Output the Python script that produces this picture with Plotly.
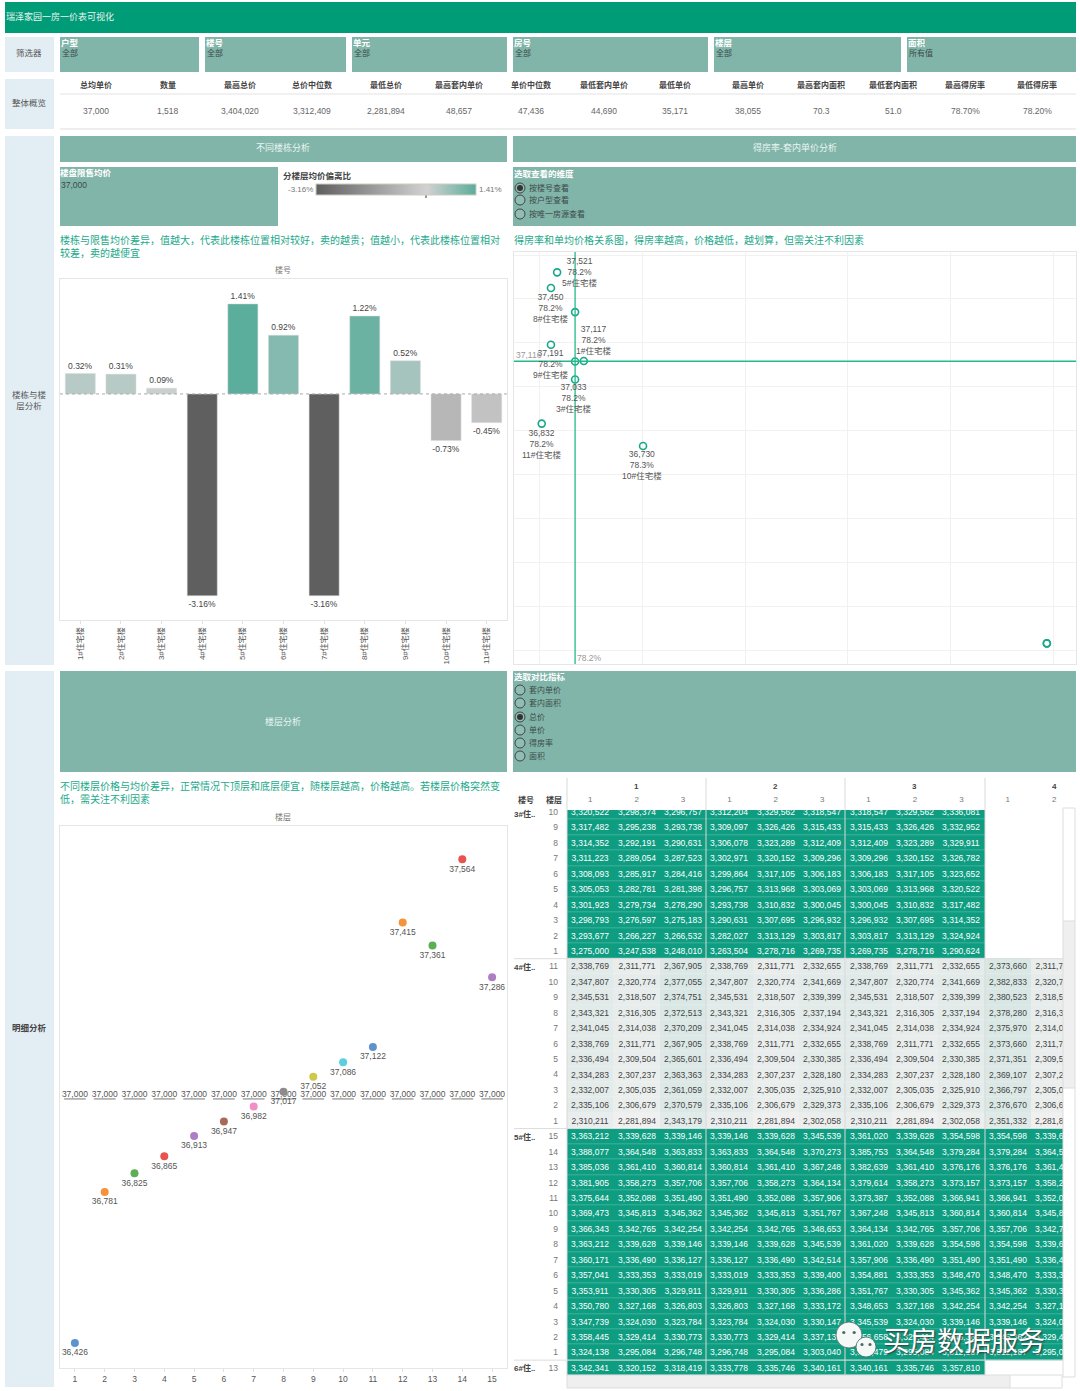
import plotly.graph_objects as go

# overview numbers
kpi_names = ["总均单价", "数量", "最高总价", "总价中位数", "最低总价", "最高套内单价", "单价中位数",
             "最低套内单价", "最低单价", "最高单价", "最高套内面积", "最低套内面积", "最高得房率", "最低得房率"]
kpi_values = ["37,000", "1,518", "3,404,020", "3,312,409", "2,281,894", "48,657", "47,436",
              "44,690", "35,171", "38,055", "70.3", "51.0", "78.70%", "78.20%"]

# building bars
buildings = ["1#住宅楼", "2#住宅楼", "3#住宅楼", "4#住宅楼", "5#住宅楼", "6#住宅楼",
             "7#住宅楼", "8#住宅楼", "9#住宅楼", "10#住宅楼", "11#住宅楼"]
deviation = [0.32, 0.31, 0.09, -3.16, 1.41, 0.92, -3.16, 1.22, 0.52, -0.73, -0.45]

# price vs efficiency scatter
building_price = [37117, 37115, 37033, 35831, 37521, 37340, 35831, 37450, 37191, 36730, 36832]
building_rate = [78.243, 78.2345, 78.2345, 78.694, 78.217, 78.2345, 78.694, 78.211, 78.211, 78.3007, 78.202]
avg_price = 37116
avg_rate = 78.2345

# floor dots
floors = list(range(1, 16))
floor_price = [36426, 36781, 36825, 36865, 36913, 36947, 36982, 37017, 37052, 37086, 37122, 37415, 37361, 37564, 37286]
floor_avg = [37000] * 15
floor_colors = ["#5F93CE", "#F5923A", "#5DAE54", "#E8534F", "#AD7EC4", "#A8695C", "#F08FC6", "#8C8C8C",
                "#CFC94A", "#5CCFDF", "#5F93CE", "#F5923A", "#5DAE54", "#E8534F", "#AD7EC4"]

# detail table, total price per floor (top floor first), columns are unit 1-4 / room 1-3
b3_floors = [10, 9, 8, 7, 6, 5, 4, 3, 2, 1]
b3_prices = [
    [3320522, 3298374, 3296757, 3312204, 3329562, 3318547, 3318547, 3329562, 3336081],
    [3317482, 3295238, 3293738, 3309097, 3326426, 3315433, 3315433, 3326426, 3332952],
    [3314352, 3292191, 3290631, 3306078, 3323289, 3312409, 3312409, 3323289, 3329911],
    [3311223, 3289054, 3287523, 3302971, 3320152, 3309296, 3309296, 3320152, 3326782],
    [3308093, 3285917, 3284416, 3299864, 3317105, 3306183, 3306183, 3317105, 3323652],
    [3305053, 3282781, 3281398, 3296757, 3313968, 3303069, 3303069, 3313968, 3320522],
    [3301923, 3279734, 3278290, 3293738, 3310832, 3300045, 3300045, 3310832, 3317482],
    [3298793, 3276597, 3275183, 3290631, 3307695, 3296932, 3296932, 3307695, 3314352],
    [3293677, 3266227, 3266532, 3282027, 3313129, 3303817, 3303817, 3313129, 3324924],
    [3275000, 3247538, 3248010, 3263504, 3278716, 3269735, 3269735, 3278716, 3290624],
]
b4_floors = [11, 10, 9, 8, 7, 6, 5, 4, 3, 2, 1]
b4_prices = [
    [2338769, 2311771, 2367905, 2338769, 2311771, 2332655, 2338769, 2311771, 2332655, 2373660, 2311771],
    [2347807, 2320774, 2377055, 2347807, 2320774, 2341669, 2347807, 2320774, 2341669, 2382833, 2320774],
    [2345531, 2318507, 2374751, 2345531, 2318507, 2339399, 2345531, 2318507, 2339399, 2380523, 2318507],
    [2343321, 2316305, 2372513, 2343321, 2316305, 2337194, 2343321, 2316305, 2337194, 2378280, 2316305],
    [2341045, 2314038, 2370209, 2341045, 2314038, 2334924, 2341045, 2314038, 2334924, 2375970, 2314038],
    [2338769, 2311771, 2367905, 2338769, 2311771, 2332655, 2338769, 2311771, 2332655, 2373660, 2311771],
    [2336494, 2309504, 2365601, 2336494, 2309504, 2330385, 2336494, 2309504, 2330385, 2371351, 2309504],
    [2334283, 2307237, 2363363, 2334283, 2307237, 2328180, 2334283, 2307237, 2328180, 2369107, 2307237],
    [2332007, 2305035, 2361059, 2332007, 2305035, 2325910, 2332007, 2305035, 2325910, 2366797, 2305035],
    [2335106, 2306679, 2370579, 2335106, 2306679, 2329373, 2335106, 2306679, 2329373, 2376670, 2306679],
    [2310211, 2281894, 2343179, 2310211, 2281894, 2302058, 2310211, 2281894, 2302058, 2351332, 2281894],
]
b5_floors = [15, 14, 13, 12, 11, 10, 9, 8, 7, 6, 5, 4, 3, 2, 1]
b5_prices = [
    [3363212, 3339628, 3339146, 3339146, 3339628, 3345539, 3361020, 3339628, 3354598, 3354598, 3339628],
    [3388077, 3364548, 3363833, 3363833, 3364548, 3370273, 3385753, 3364548, 3379284, 3379284, 3364548],
    [3385036, 3361410, 3360814, 3360814, 3361410, 3367248, 3382639, 3361410, 3376176, 3376176, 3361410],
    [3381905, 3358273, 3357706, 3357706, 3358273, 3364134, 3379614, 3358273, 3373157, 3373157, 3358273],
    [3375644, 3352088, 3351490, 3351490, 3352088, 3357906, 3373387, 3352088, 3366941, 3366941, 3352088],
    [3369473, 3345813, 3345362, 3345362, 3345813, 3351767, 3367248, 3345813, 3360814, 3360814, 3345813],
    [3366343, 3342765, 3342254, 3342254, 3342765, 3348653, 3364134, 3342765, 3357706, 3357706, 3342765],
    [3363212, 3339628, 3339146, 3339146, 3339628, 3345539, 3361020, 3339628, 3354598, 3354598, 3339628],
    [3360171, 3336490, 3336127, 3336127, 3336490, 3342514, 3357906, 3336490, 3351490, 3351490, 3336490],
    [3357041, 3333353, 3333019, 3333019, 3333353, 3339400, 3354881, 3333353, 3348470, 3348470, 3333353],
    [3353911, 3330305, 3329911, 3329911, 3330305, 3336286, 3351767, 3330305, 3345362, 3345362, 3330305],
    [3350780, 3327168, 3326803, 3326803, 3327168, 3333172, 3348653, 3327168, 3342254, 3342254, 3327168],
    [3347739, 3324030, 3323784, 3323784, 3324030, 3330147, 3345539, 3324030, 3339146, 3339146, 3324030],
    [3358445, 3329414, 3330773, 3330773, 3329414, 3337130, 3356658, 3329414, 3345362, 3345362, 3329414],
    [3324138, 3295084, 3296748, 3296748, 3295084, 3303040, 3318479, 3295084, 3312187, 3312187, 3295084],
]
b6_floors = [13]
b6_prices = [[3342341, 3320152, 3318419, 3333778, 3335746, 3340161, 3340161, 3335746, 3357810]]
unit_labels = ["1", "2", "3", "4"]
room_labels = ["1", "2", "3", "1", "2", "3", "1", "2", "3", "1", "2"]

W, H = 1080, 1391
FONT = "Liberation Sans, Noto Sans CJK SC"
TEAL = "#82B5AA"
DARK = "#009B77"
PALE = "#E3EEF4"
GREEN_TEXT = "#1CA98A"
GREY = "#555555"


def px(x):
    return x / W


def py(y):
    return 1 - y / H


def note(text):
    # the notes use full-width punctuation
    return text.replace(",", "\uff0c").replace(";", "\uff1b")


shapes, annotations = [], []


def box(x0, y0, x1, y1, color):
    shapes.append(dict(type="rect", xref="paper", yref="paper", x0=px(x0), x1=px(x1), y0=py(y0), y1=py(y1),
                       fillcolor=color, line_width=0, layer="below"))


def hline(x0, x1, y, color="#E4E4E4", width=1, layer="above"):
    shapes.append(dict(type="line", xref="paper", yref="paper", x0=px(x0), x1=px(x1), y0=py(y), y1=py(y),
                       line=dict(color=color, width=width), layer=layer))


def vline(x, y0, y1, color="#D9D9D9", width=1):
    shapes.append(dict(type="line", xref="paper", yref="paper", x0=px(x), x1=px(x), y0=py(y0), y1=py(y1),
                       line=dict(color=color, width=width), layer="above"))


def label(x, y, text, size=8.5, color=GREY, anchor="left", bold=False):
    if bold:
        text = f"<b>{text}</b>"
    annotations.append(dict(xref="paper", yref="paper", x=px(x), y=py(y), text=text, showarrow=False,
                            xanchor=anchor, yanchor="middle", font=dict(size=size, color=color, family=FONT),
                            borderpad=0, borderwidth=0))


def radios(x, ys, names, selected):
    for y, name in zip(ys, names):
        shapes.append(dict(type="circle", xref="paper", yref="paper", x0=px(x - 5), x1=px(x + 5),
                           y0=py(y + 5), y1=py(y - 5), line=dict(color="#444444", width=1),
                           fillcolor="rgba(255,255,255,0.12)", layer="above"))
        if name == selected:
            shapes.append(dict(type="circle", xref="paper", yref="paper", x0=px(x - 3), x1=px(x + 3),
                               y0=py(y + 3), y1=py(y - 3), line_width=0, fillcolor="#333333", layer="above"))
        label(x + 9, y, name, 8, "#3C4A47")


# title and filters
box(5, 2, 1076, 33, DARK)
label(6, 17, "瑞泽家园一房一价表可视化", 9, "#E8F5F1")
box(5, 37, 54, 72, PALE)
label(29, 53, "筛选器", 8.5, GREY, "center")
for x0, x1, name, val in [(60, 199, "户型", "全部"), (205, 346, "楼号", "全部"), (352, 507, "单元", "全部"),
                          (513, 708, "房号", "全部"), (714, 901, "楼层", "全部"), (907, 1076, "面积", "所有值")]:
    box(x0, 37, x1, 72, TEAL)
    label(x0 + 1, 43, name, 8.5, "#FFFFFF", bold=True)
    label(x0 + 2, 53, val, 8, "#3C4A47")

# overview row
box(5, 79, 54, 129, PALE)
label(29, 103, "整体概览", 8.5, GREY, "center")
kpi_centers = [96, 168, 240, 312, 386, 459, 531, 604, 675, 748, 821, 893, 965, 1037]
for cx, name, val in zip(kpi_centers, kpi_names, kpi_values):
    label(cx, 85, name, 8, "#444444", "center", True)
    label(cx, 111, val, 8.5, "#666666", "center")
hline(60, 1076, 94, "#F1F1F1", 2)
hline(60, 1076, 129, "#DDDDDD", 1)

# section panels
box(5, 136, 54, 665, PALE)
label(29, 400, "楼栋与楼<br>层分析", 8.5, GREY, "center")
box(5, 671, 54, 1387, PALE)
label(29, 1028, "明细分析", 8.5, "#444444", "center", True)

box(60, 136, 507, 162, TEAL)
label(283, 148, "不同楼栋分析", 9, "#E8F5F1", "center")
box(513, 136, 1076, 162, TEAL)
label(795, 148, "得房率-套内单价分析", 9, "#E8F5F1", "center")

box(60, 167, 278, 226, TEAL)
label(60, 173, "楼盘限售均价", 8.5, "#FFFFFF", bold=True)
label(61, 185, "37,000", 8.5, "#3C4A47")
label(283, 176, "分楼层均价偏离比", 8.5, "#444444", bold=True)
label(288, 189, "-3.16%", 8, "#777777")
label(479, 189, "1.41%", 8, "#777777")
vline(426, 195, 198, "#333333", 1)

box(513, 167, 1076, 226, TEAL)
label(514, 174, "选取查看的维度", 8.5, "#FFFFFF", bold=True)
radios(520, [188, 200, 214], ["按楼号查看", "按户型查看", "按唯一房源查看"], "按楼号查看")

label(60, 240, note("楼栋与限售均价差异,值越大,代表此楼栋位置相对较好,卖的越贵;值越小,代表此楼栋位置相对"), 10, GREEN_TEXT)
label(60, 253, note("较差,卖的越便宜"), 10, GREEN_TEXT)
label(514, 240, note("得房率和单均价格关系图,得房率越高,价格越低,越划算,但需关注不利因素"), 10, GREEN_TEXT)
label(283, 270, "楼号", 8, "#777777", "center")

box(60, 671, 507, 772, TEAL)
label(283, 721, "楼层分析", 9, "#E8F5F1", "center")
box(513, 671, 1076, 772, TEAL)
label(514, 677, "选取对比指标", 8.5, "#FFFFFF", bold=True)
radios(520, [690, 703, 717, 730, 743, 756], ["套内单价", "套内面积", "总价", "单价", "得房率", "面积"], "总价")

label(60, 786, note("不同楼层价格与均价差异,正常情况下顶层和底层便宜,随楼层越高,价格越高。若楼层价格突然变"), 10, GREEN_TEXT)
label(60, 799, note("低,需关注不利因素"), 10, GREEN_TEXT)
label(283, 817, "楼层", 8, "#777777", "center")

fig = go.Figure()

# bars, the colorbar doubles as the gradient legend
dev_scale = [[0, "#5F5F5F"], [0.691, "#D2D2D2"], [1, "#5BAD9C"]]
fig.add_trace(go.Bar(
    x=buildings, y=deviation, xaxis="x", yaxis="y", width=0.74,
    text=[f"{v:.2f}%" for v in deviation], textposition="outside", cliponaxis=False,
    textfont=dict(size=8.5, color="#444444", family=FONT),
    marker=dict(color=deviation, colorscale=dev_scale, cmin=-3.16, cmax=1.41, showscale=True,
                line=dict(color="#DDDDDD", width=0.5),
                colorbar=dict(orientation="h", x=px(396), xanchor="center", y=py(190), yanchor="middle",
                              len=160, lenmode="pixels", thickness=11, thicknessmode="pixels",
                              showticklabels=False, ticks="", outlinecolor="#CFCBBF", outlinewidth=1,
                              xpad=0, ypad=0)),
))
shapes.append(dict(type="line", xref="x domain", yref="y", x0=0, x1=1, y0=0, y1=0,
                   line=dict(color="#AAAAAA", width=1, dash="dot"), layer="above"))

# scatter
fig.add_trace(go.Scatter(
    x=building_rate, y=building_price, xaxis="x2", yaxis="y2", mode="markers", cliponaxis=False,
    marker=dict(size=7, color="rgba(255,255,255,0)", line=dict(color="#16A888", width=1.6)),
))
shapes.append(dict(type="line", xref="x2", yref="y2 domain", x0=avg_rate, x1=avg_rate, y0=0, y1=1,
                   line=dict(color="#25B98A", width=1.3), layer="above"))
shapes.append(dict(type="line", xref="x2 domain", yref="y2", x0=0, x1=1, y0=avg_price, y1=avg_price,
                   line=dict(color="#25B98A", width=1.3), layer="above"))
shifts = {0: (10, 21), 2: (-2, -19), 4: (22, 0), 7: (0, -20), 8: (0, -19), 9: (-1, -19), 10: (0, -20)}
for i, (dx, dy) in shifts.items():
    annotations.append(dict(xref="x2", yref="y2", x=building_rate[i], y=building_price[i], showarrow=False,
                            text=f"{building_price[i]:,}<br>{building_rate[i]:.1f}%<br>{buildings[i]}",
                            xshift=dx, yshift=dy, font=dict(size=8.5, color="#555555", family=FONT)))
label(516, 355, f"{avg_price:,}", 8.5, "#999999")
label(577, 658, f"{avg_rate:.1f}%", 8.5, "#999999")

# floor dots with the flat average marks
fig.add_trace(go.Scatter(
    x=floors, y=floor_avg, xaxis="x3", yaxis="y3", mode="markers", cliponaxis=False,
    marker=dict(symbol="line-ew", size=15.5, line=dict(color="#AAAAAA", width=1.6)),
))
fig.add_trace(go.Scatter(
    x=floors, y=floor_avg, xaxis="x3", yaxis="y3", mode="text", cliponaxis=False,
    text=[f"{v:,}" for v in floor_avg], textposition="top center",
    textfont=dict(size=8.5, color="#555555", family=FONT),
))
fig.add_trace(go.Scatter(
    x=floors, y=floor_price, xaxis="x3", yaxis="y3", mode="markers+text", cliponaxis=False,
    text=[f"{v:,}" for v in floor_price], textposition="bottom center",
    textfont=dict(size=8.5, color="#555555", family=FONT),
    marker=dict(size=8, color=floor_colors),
))

# detail table
all_rows = b3_prices + b4_prices + b5_prices + b6_prices
all_floors = b3_floors + b4_floors + b5_floors + b6_floors
n_cols = len(room_labels)
grid = [r + [None] * (n_cols - len(r)) for r in all_rows]
cell_text = [[f"{v:,}" if v is not None else "" for v in r] for r in grid]
fig.add_trace(go.Heatmap(
    z=grid, text=cell_text, texttemplate="%{text}", xaxis="x4", yaxis="y4",
    x=list(range(n_cols)), y=list(range(len(grid))),
    textfont=dict(size=8.5, family=FONT), zmin=2280000, zmax=3240000, showscale=False, ygap=0.2, hoverongaps=False,
    colorscale=[[0, "#F0F0F0"], [1, "#0F9D82"]],
))

for x_cut in [567, 706, 845, 985]:
    vline(x_cut, 778, 1376)
row_top = 804.3
row_h = 15.44
b_sizes = [len(b3_floors), len(b4_floors), len(b5_floors), len(b6_floors)]
rows_seen = 0
for name, n in zip(["3#住..", "4#住..", "5#住..", "6#住.."], b_sizes):
    y_top = row_top + rows_seen * row_h
    label(514, max(y_top + 8, 814), name, 8, "#444444", bold=True)
    if rows_seen:
        hline(514, 1063, y_top, "#DDDDDD", 1)
    rows_seen += n
for cx, name in [(526, "楼号"), (554, "楼层")]:
    label(cx, 800, name, 8, "#444444", "center", True)
for i, name in enumerate(unit_labels):
    annotations.append(dict(xref="x4", yref="paper", x=1 + 3 * i, y=py(786), text=f"<b>{name}</b>", showarrow=False,
                            xanchor="center", yanchor="middle", font=dict(size=8, color="#444444", family=FONT)))

# table scrollbars
box(1063, 808, 1075, 1377, "#FFFFFF")
box(1063, 921, 1075, 1088, "#EFEFEF")
for sx in [1063, 1075]:
    vline(sx, 808, 1377, "#DDDDDD")
hline(1063, 1075, 808, "#DDDDDD")
hline(1063, 1075, 921, "#DDDDDD")
hline(1063, 1075, 1088, "#DDDDDD")
hline(1063, 1075, 1377, "#DDDDDD")
box(567, 1375, 1010, 1388, "#EFEFEF")
for sy in [1375, 1388]:
    hline(567, 1062, sy, "#DDDDDD")
vline(567, 1375, 1388, "#DDDDDD")
vline(1010, 1375, 1388, "#DDDDDD")
vline(1062, 1375, 1388, "#DDDDDD")

# watermark
for cx, cy, r in [(849, 1335, 13), (866, 1347, 10)]:
    shapes.append(dict(type="circle", xref="paper", yref="paper", x0=px(cx - r), x1=px(cx + r), y0=py(cy + r),
                       y1=py(cy - r), fillcolor="#F4F8F7", line=dict(color="#4A6B63", width=0.8), layer="above"))
    for ex in (-r * 0.4, r * 0.4):
        shapes.append(dict(type="circle", xref="paper", yref="paper", x0=px(cx + ex - 1.6), x1=px(cx + ex + 1.6),
                           y0=py(cy - 1), y1=py(cy - 4), fillcolor="#4A6B63", line_width=0, layer="above"))
annotations.append(dict(xref="paper", yref="paper", x=px(964), y=py(1342), text="买房数据服务", showarrow=False,
                        xanchor="center", yanchor="middle",
                        font=dict(size=27, color="#FFFFFF", family=FONT, shadow="1px 1px 2px #333333")))


frame = dict(showline=True, mirror=True, linecolor="#E6E6E6", linewidth=1, fixedrange=True)

fig.update_layout(
    width=W, height=H, margin=dict(l=0, r=0, t=0, b=0, autoexpand=False), showlegend=False,
    paper_bgcolor="#FFFFFF", plot_bgcolor="rgba(0,0,0,0)", font=dict(family=FONT, size=8, color=GREY),
    shapes=shapes, annotations=annotations,
    xaxis=dict(domain=[px(60), px(507)], anchor="y", range=[-0.5, 10.5], tickangle=-90, ticks="outside", ticklen=3,
               tickcolor="#E0E0E0", showgrid=False, tickfont=dict(size=8, color="#555555"), **frame),
    yaxis=dict(domain=[py(620), py(279)], anchor="x", range=[-3.54, 1.80], showticklabels=False, ticks="",
               showgrid=False, zeroline=False, **frame),
    xaxis2=dict(domain=[px(514), px(1076)], anchor="y2", range=[78.175, 78.7224], tickvals=[78.2, 78.3, 78.4, 78.5, 78.6, 78.7],
                showticklabels=False, ticks="", gridcolor="#F1F1F1", zeroline=False, **frame),
    yaxis2=dict(domain=[py(664), py(252)], anchor="x2", range=[35737, 37613.7], dtick=200, tick0=35800,
                showticklabels=False, ticks="", gridcolor="#F1F1F1", zeroline=False, **frame),
    xaxis3=dict(domain=[px(60), px(507)], anchor="y3", range=[0.5, 15.5], tickvals=floors, ticks="outside", ticklen=3,
                tickcolor="#E0E0E0", showgrid=False, zeroline=False, tickfont=dict(size=8.5, color="#555555"), **frame),
    yaxis3=dict(domain=[py(1368), py(826)], anchor="x3", range=[36367, 37642], showticklabels=False, ticks="",
                showgrid=False, zeroline=False, **frame),
    xaxis4=dict(domain=[px(567), px(1063)], anchor="y4", side="top", range=[-0.5, 10.19],
                tickvals=list(range(n_cols)), ticktext=room_labels, ticks="", showgrid=False, zeroline=False,
                tickfont=dict(size=8, color="#777777"), ticklabelstandoff=5, fixedrange=True),
    yaxis4=dict(domain=[py(1375), py(810)], anchor="x4", range=[36.46, -0.13],
                tickvals=list(range(len(all_floors))), ticktext=[str(f) for f in all_floors], ticks="",
                showgrid=False, zeroline=False, tickfont=dict(size=8.5, color="#777777"), ticklabelstandoff=8,
                fixedrange=True),
)

fig.write_html("out.html", config={"displayModeBar": False}, post_script="document.body.style.margin='0';")
